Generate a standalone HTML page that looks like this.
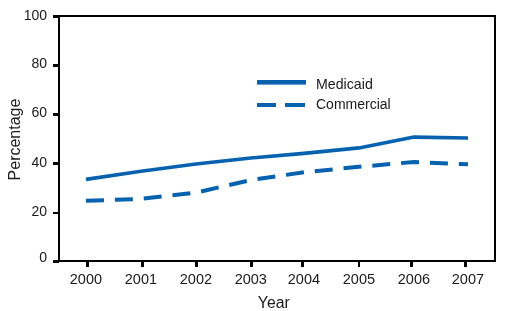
<!DOCTYPE html>
<html><head><meta charset="utf-8"><style>
html,body{margin:0;padding:0;background:#fff;}
svg{display:block;will-change:transform;}
text{font-family:"Liberation Sans",sans-serif;fill:#1a1a1a;}
</style></head><body>
<svg width="512" height="311" viewBox="0 0 512 311">
<rect width="512" height="311" fill="#fff"/>
<g shape-rendering="crispEdges">
<rect x="58" y="15" width="438" height="2" fill="#000"/>
<rect x="58" y="260" width="438" height="2" fill="#000"/>
<rect x="58" y="15" width="2" height="247" fill="#000"/>
<rect x="494" y="15" width="2" height="247" fill="#000"/>
<rect x="53" y="15" width="6" height="3" fill="#000"/>
<rect x="53" y="64" width="6" height="3" fill="#000"/>
<rect x="53" y="113" width="6" height="3" fill="#000"/>
<rect x="53" y="162" width="6" height="3" fill="#000"/>
<rect x="53" y="212" width="6" height="2" fill="#000"/>
<rect x="53" y="260" width="6" height="3" fill="#000"/>
<rect x="86" y="261" width="3" height="6" fill="#000"/>
<rect x="141" y="261" width="3" height="6" fill="#000"/>
<rect x="195" y="261" width="3" height="6" fill="#000"/>
<rect x="250" y="261" width="3" height="6" fill="#000"/>
<rect x="301" y="261" width="3" height="6" fill="#000"/>
<rect x="358" y="261" width="2" height="6" fill="#000"/>
<rect x="410" y="261" width="3" height="6" fill="#000"/>
<rect x="464" y="261" width="3" height="6" fill="#000"/>
</g>
<g font-size="14">
<text x="47" y="19.6" text-anchor="end">100</text>
<text x="47" y="67.6" text-anchor="end">80</text>
<text x="47" y="116.6" text-anchor="end">60</text>
<text x="47" y="166.6" text-anchor="end">40</text>
<text x="47" y="215.6" text-anchor="end">20</text>
<text x="47" y="261.7" text-anchor="end">0</text>
<text x="85.90" y="283.7" font-size="14.5" text-anchor="middle">2000</text>
<text x="140.90" y="283.7" font-size="14.5" text-anchor="middle">2001</text>
<text x="195.90" y="283.7" font-size="14.5" text-anchor="middle">2002</text>
<text x="250.80" y="283.7" font-size="14.5" text-anchor="middle">2003</text>
<text x="303.90" y="283.7" font-size="14.5" text-anchor="middle">2004</text>
<text x="358.90" y="283.7" font-size="14.5" text-anchor="middle">2005</text>
<text x="413.90" y="283.7" font-size="14.5" text-anchor="middle">2006</text>
<text x="467.90" y="283.7" font-size="14.5" text-anchor="middle">2007</text>
</g>
<text x="273.8" y="307.7" font-size="15.8" text-anchor="middle">Year</text>
<text transform="translate(20.3,139.5) rotate(-90)" font-size="16" text-anchor="middle">Percentage</text>
<polyline points="86.00,179.40 141.00,171.20 196.00,164.00 250.90,158.00 304.00,153.40 359.00,147.90 414.00,137.10 468.00,138.00" fill="none" stroke="#0662ae" stroke-width="3.6" stroke-linejoin="round"/>
<polyline points="86.00,200.80 141.00,198.90 196.00,192.60 250.90,180.00 304.00,172.30 359.00,166.80 414.00,162.00 468.00,164.30" fill="none" stroke="#0662ae" stroke-width="4" stroke-dasharray="18 10.9" stroke-linejoin="round"/>
<rect x="257" y="80" width="49" height="4.6" fill="#0662ae"/>
<rect x="257" y="103" width="19" height="4" fill="#0662ae"/>
<rect x="285" y="103" width="20" height="4" fill="#0662ae"/>
<text x="316" y="89.1" font-size="14.2">Medicaid</text>
<text x="316" y="108.6" font-size="14">Commercial</text>
</svg>
</body></html>
